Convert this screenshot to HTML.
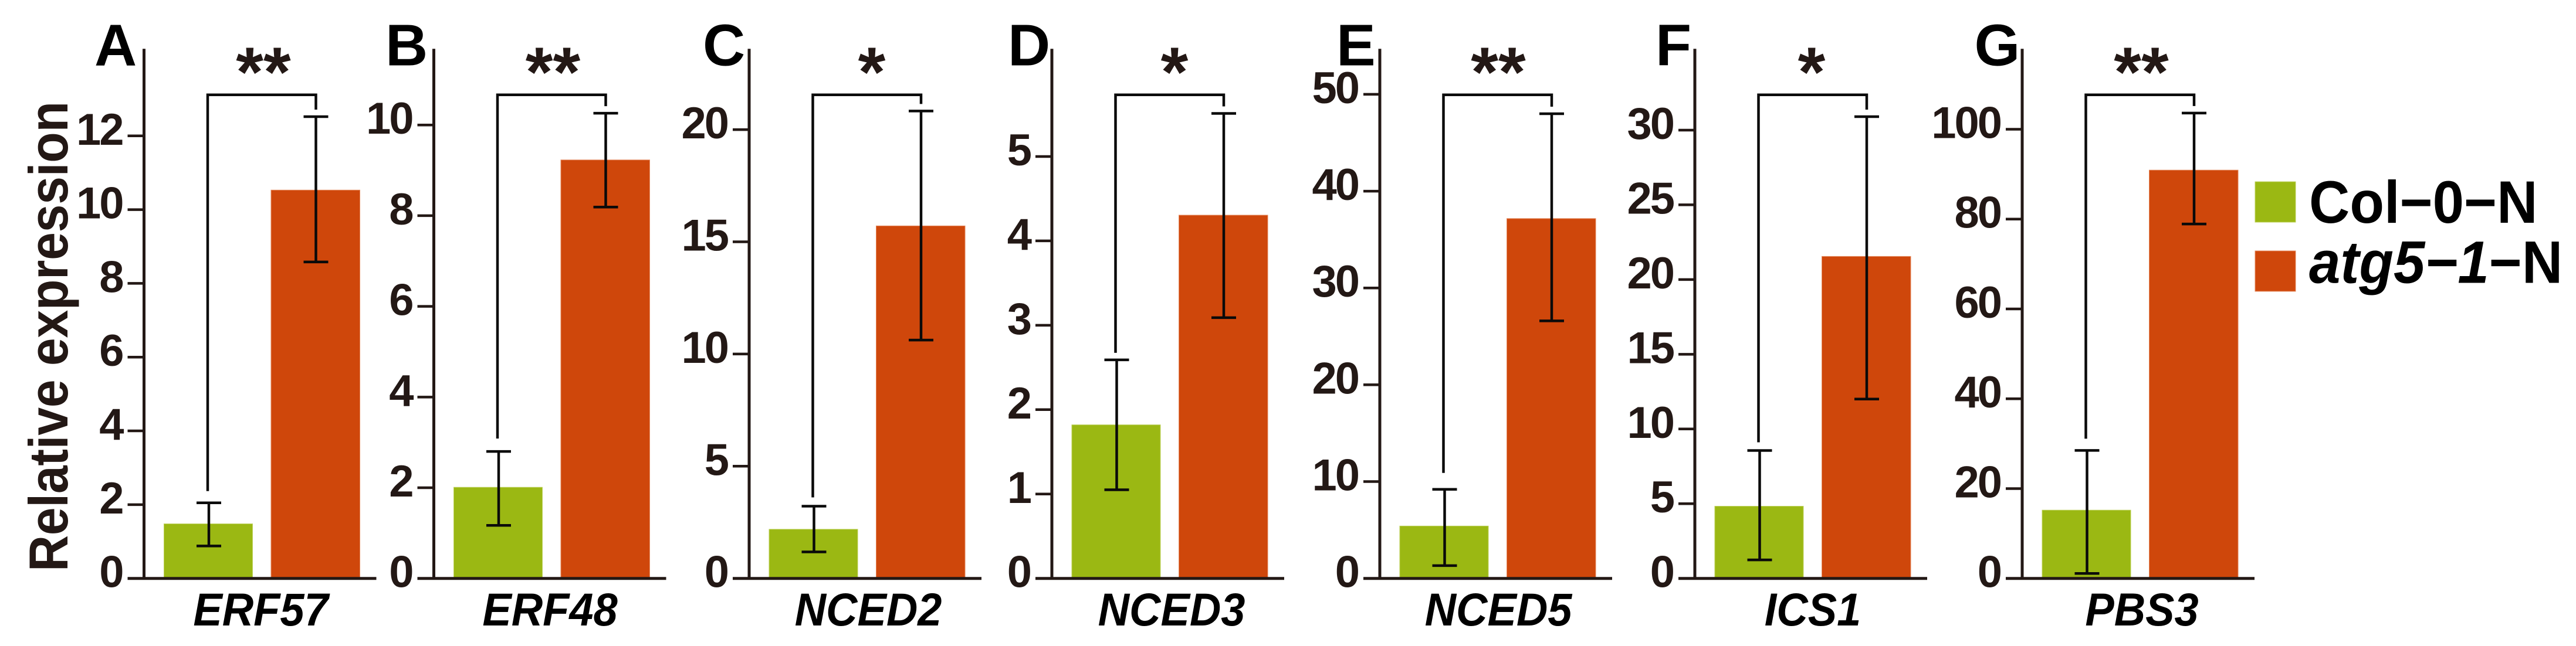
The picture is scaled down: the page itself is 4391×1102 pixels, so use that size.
<!DOCTYPE html>
<html lang="en">
<head>
<meta charset="utf-8">
<title>Relative expression of seven genes in Col-0-N and atg5-1-N</title>
<style>
html,body{margin:0;padding:0;background:#fff;width:4391px;height:1102px;overflow:hidden}
svg{display:block;font-family:"Liberation Sans",Arial,sans-serif}
</style>
</head>
<body>
<svg id="chart" xmlns="http://www.w3.org/2000/svg" width="4391" height="1102" viewBox="0 0 4391 1102">
  <rect x="0" y="0" width="4391" height="1102" fill="#ffffff"/>
  <text transform="translate(115 975) rotate(-90) scale(1 1.09)" font-size="86" font-weight="700" fill="#231815" textLength="802" lengthAdjust="spacing">Relative expression</text>
  <g>
    <rect x="3844" y="310" width="69" height="69" fill="#9BB813" stroke="#BCD05A" stroke-width="1"/>
    <text transform="translate(3936 380) scale(1 1.06)" font-size="96" font-weight="700" fill="#000000">Col−0−N</text>
    <rect x="3844" y="428" width="69" height="69" fill="#CF470B" stroke="#E58A5E" stroke-width="1"/>
    <text transform="translate(3936 482.5) scale(1 1.06)" font-size="96" font-weight="700" fill="#000000"><tspan font-style="italic">atg5−1</tspan>−N</text>
  </g>
</svg>
<script>
// Data
const genes = ["ERF57", "ERF48", "NCED2", "NCED3", "NCED5", "ICS1", "PBS3"];
const panelLetters = ["A", "B", "C", "D", "E", "F", "G"];
const significance = ["**", "**", "*", "*", "**", "*", "**"];
const axisMax = [14.36, 11.68, 23.6, 6.276, 54.7, 35.44, 117.9];
const tickLabels = [
  [0, 2, 4, 6, 8, 10, 12],
  [0, 2, 4, 6, 8, 10],
  [0, 5, 10, 15, 20],
  [0, 1, 2, 3, 4, 5],
  [0, 10, 20, 30, 40, 50],
  [0, 5, 10, 15, 20, 25, 30],
  [0, 20, 40, 60, 80, 100]
];
const colValues = [1.48, 2.01, 2.19, 1.82, 5.41, 4.83, 15.2];
const colErrHigh = [2.05, 2.80, 3.22, 2.59, 9.2, 8.56, 28.5];
const colErrLow = [0.88, 1.17, 1.18, 1.05, 1.32, 1.24, 1.1];
const atgValues = [10.53, 9.23, 15.71, 4.305, 37.17, 21.55, 90.9];
const atgErrHigh = [12.52, 10.26, 20.83, 5.51, 48.0, 30.9, 103.6];
const atgErrLow = [8.58, 8.19, 10.62, 3.09, 26.6, 12.0, 78.9];

// Layout constants (not data)
const panelOrigin = [245.5, 739.5, 1277, 1793, 2352, 2889, 3447];
const letterLeft = [161, 657, 1198, 1718, 2278, 2822, 3365.5];
const starsOffset = [203.5, 203, 209, 209, 202, 199, 203];
const geneOffset = [199, 198, 203, 204, 202, 201, 204];
const bracketLeftGap = [20, 22, 15, 12, 28, 14, 20];
const baselineY = 986.7, plotHeight = 903.4, bracketTop = 161.7, bracketRightGap = 12;
const inkColor = "#231815", colColor = "#9BB813", atgColor = "#CF470B";
const svgNS = "http://www.w3.org/2000/svg";
const chart = document.getElementById("chart");

function mk(parent, tag, attrs, text) {
  const el = document.createElementNS(svgNS, tag);
  for (const k in attrs) el.setAttribute(k, attrs[k]);
  if (text !== undefined) el.textContent = text;
  parent.appendChild(el);
  return el;
}

genes.forEach(function (gene, i) {
  const x0 = panelOrigin[i];
  const yScale = function (v) { return baselineY - v / axisMax[i] * plotHeight; };
  const key = gene.toLowerCase();

  const g = mk(chart, "g", {});
  
  

  // Bars
  const colBar = mk(g, "rect", { x: x0 + 34, y: yScale(colValues[i]), width: 151, height: baselineY - yScale(colValues[i]), fill: colColor, stroke: "#BCD05A", "stroke-width": 1 });
  
  
  const atgBar = mk(g, "rect", { x: x0 + 216.5, y: yScale(atgValues[i]), width: 151.5, height: baselineY - yScale(atgValues[i]), fill: atgColor, stroke: "#E58A5E", "stroke-width": 1 });
  
  

  // Axes
  const yAxis = mk(g, "line", { x1: x0, x2: x0, y1: 83.3, y2: baselineY + 2, stroke: inkColor, "stroke-width": 5 });
  
  
  const xAxis = mk(g, "line", { x1: x0 - 28, x2: x0 + 396, y1: baselineY, y2: baselineY, stroke: inkColor, "stroke-width": 5 });
  
  

  // Ticks and labels
  tickLabels[i].forEach(function (t) {
    const ty = yScale(t);
    const tick = mk(g, "line", { x1: x0 - 28, x2: x0, y1: ty, y2: ty, stroke: inkColor, "stroke-width": 4.5 });
    
    
    const lab = mk(g, "text", { x: x0 - 37, y: ty + 15, "text-anchor": "end", "font-size": 76, "font-weight": 700, fill: inkColor, "letter-spacing": -3 }, String(t));
    
    
  });

  // Error bars
  [[110.5, colErrHigh[i], colErrLow[i], 'col-0-n'], [293, atgErrHigh[i], atgErrLow[i], 'atg5-1-n']].forEach(function (e) {
    const ex = x0 + e[0], hi = yScale(e[1]), lo = yScale(e[2]);
    const err = mk(g, "path", { d: "M" + (ex - 21) + " " + hi + "H" + (ex + 21) + "M" + ex + " " + hi + "V" + lo + "M" + (ex - 21) + " " + lo + "H" + (ex + 21), fill: "none", stroke: "#0a0a0a", "stroke-width": 4.5 });
    
    
  });

  // Significance bracket
  const leftEnd = yScale(colErrHigh[i]) - bracketLeftGap[i];
  const rightEnd = yScale(atgErrHigh[i]) - bracketRightGap;
  const bracket = mk(g, "path", { d: "M" + (x0 + 108.5) + " " + leftEnd + "V" + bracketTop + "H" + (x0 + 293) + "V" + rightEnd, fill: "none", stroke: "#0a0a0a", "stroke-width": 4.5 });
  
  

  const stars = mk(g, "text", { x: x0 + starsOffset[i], y: 164, "text-anchor": "middle", "font-size": 120, "font-weight": 700, fill: inkColor }, significance[i]);
  
  

  // Gene label and panel letter
  const geneLabel = mk(g, "text", { transform: "translate(" + (x0 + geneOffset[i]) + " 1067) scale(1 1.06)", "text-anchor": "middle", "font-size": 74, "font-weight": 700, "font-style": "italic", fill: "#000000" }, gene);
  
  

  const letter = mk(g, "text", { x: letterLeft[i], y: 111.5, "font-size": 100, "font-weight": 700, fill: "#000000" }, panelLetters[i]);
  
  
});
</script>
</body>
</html>
